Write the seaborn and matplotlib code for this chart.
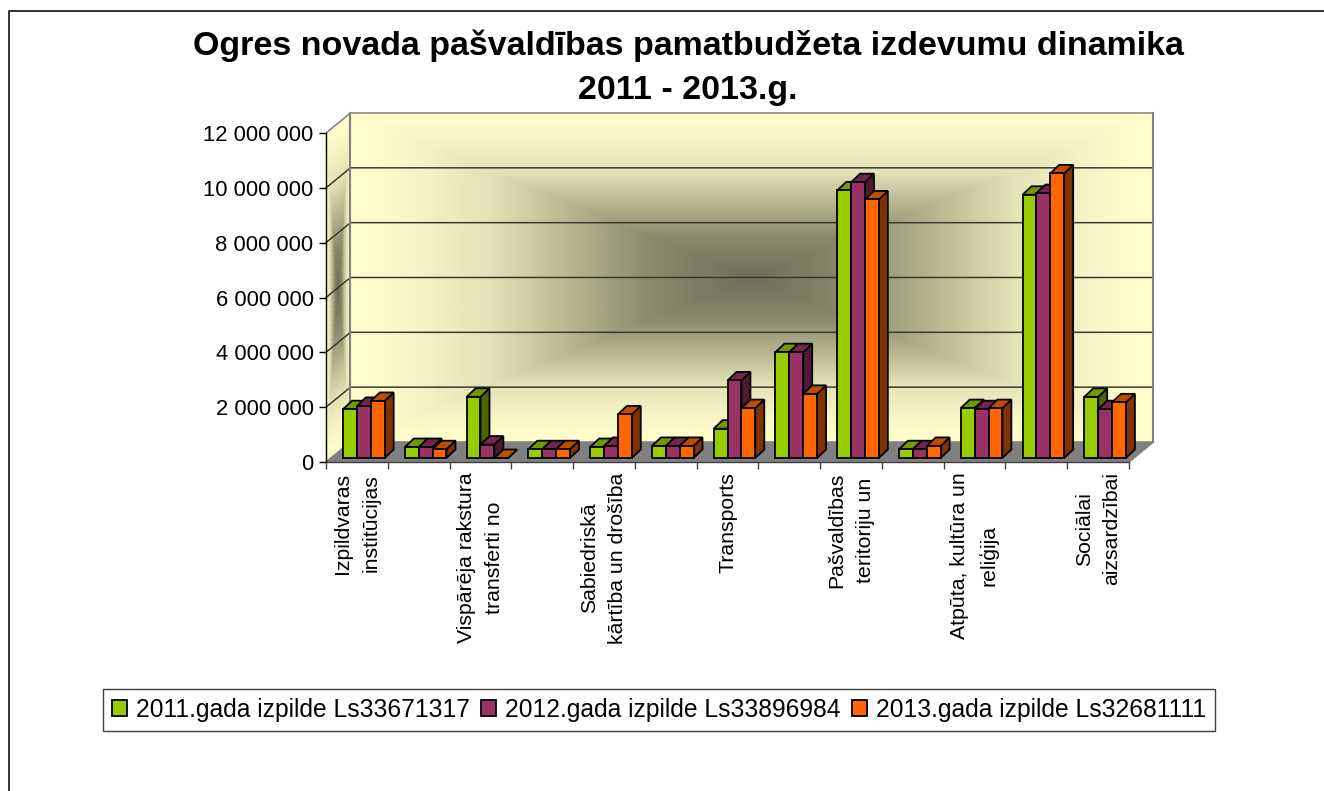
import numpy as np
import pandas as pd
import seaborn as sns
from matplotlib import pyplot as plt
from matplotlib.colors import LinearSegmentedColormap
from matplotlib.lines import Line2D
from matplotlib.patches import Polygon

# values (Ls)
series_names = ['2011.gada izpilde Ls33671317', '2012.gada izpilde Ls33896984', '2013.gada izpilde Ls32681111']
values_2011 = [1780000, 400000, 2230000, 320000, 400000, 440000, 1070000, 3860000, 9760000, 320000, 1820000, 9600000, 2230000]
values_2012 = [1900000, 400000, 490000, 320000, 440000, 440000, 2830000, 3860000, 10060000, 320000, 1780000, 9660000, 1780000]
values_2013 = [2080000, 320000, 0, 320000, 1590000, 440000, 1820000, 2340000, 9430000, 440000, 1820000, 10380000, 2030000]
cat_labels = ['Izpildvaras\ninstitūcijas', '', 'Vispārēja rakstura\ntransferti no', '',
              'Sabiedriskā\nkārtība un drošība', '', 'Transports', '',
              'Pašvaldības\nteritoriju un', '', 'Atpūta, kultūra un\nreliģija', '',
              'Sociālai\naizsardzībai']
y_ticks = [0, 2000000, 4000000, 6000000, 8000000, 10000000, 12000000]
y_labels = ['0', '2 000 000', '4 000 000', '6 000 000', '8 000 000', '10 000 000', '12 000 000']

front_colors = ['#99CC00', '#993366', '#FF6600']
top_colors = ['#739900', '#73264D', '#BF4D00']
side_colors = ['#4D6600', '#4D1933', '#803300']

W, H = 1324, 791
sns.set_style('white')
plt.rcParams['font.family'] = ['Liberation Sans', 'DejaVu Sans']

rows = []
for name, vals in zip(series_names, [values_2011, values_2012, values_2013]):
    for i, v in enumerate(vals):
        rows.append({'cat': i, 'series': name, 'value': v})
df = pd.DataFrame(rows)


def px_axes(x0, y0, x1, y1):
    # axes from pixel box, y counted from the top
    return fig.add_axes([x0 / W, 1 - y1 / H, (x1 - x0) / W, (y1 - y0) / H])


fig = plt.figure(figsize=(W / 100, H / 100), dpi=100)
ax = px_axes(326, 133, 1129, 462)
ax.set_xlim(-0.5, 12.5)
ax.set_ylim(0, 12000000)
ax.patch.set_visible(False)

# depth of the fake 3d box, data units
wall_dx = 24.5 / 61.8
wall_dy = 20 / 54.8 * 2000000
x_l, x_r = -0.5, 12.5

grad = LinearSegmentedColormap.from_list('wall', [
    (0.0, '#6F6F58'), (0.25, '#8A8A6C'), (0.45, '#B8B690'),
    (0.65, '#E4E2B6'), (0.85, '#F8F6C6'), (1.0, '#FFFFCC')])
u, v = np.meshgrid(np.linspace(-1, 1, 301), np.linspace(-1, 1, 201))
shade = np.maximum(np.abs(u), np.abs(v))

# back wall
ax.pcolormesh(x_l + wall_dx + (u + 1) / 2 * (x_r - x_l), wall_dy + (v + 1) / 2 * 12000000,
              shade, cmap=grad, vmin=0, vmax=1, shading='gouraud', clip_on=False, zorder=0)
# left wall
ax.pcolormesh(x_l + (u + 1) / 2 * wall_dx, (u + 1) / 2 * wall_dy + (v + 1) / 2 * 12000000,
              shade, cmap=grad, vmin=0, vmax=1, shading='gouraud', clip_on=False, zorder=0)
# floor
ax.add_patch(Polygon([(x_l, 0), (x_l + wall_dx, wall_dy), (x_r + wall_dx, wall_dy), (x_r, 0)],
                     facecolor='#808080', edgecolor='none', clip_on=False, zorder=1))

for t in y_ticks:
    c = '#808080' if t == 0 or t == 12000000 else '#3A3A30'
    ax.plot([x_l, x_l + wall_dx, x_r + wall_dx], [t, t + wall_dy, t + wall_dy],
            color=c, lw=1.1, clip_on=False, zorder=2)
ax.plot([x_l + wall_dx, x_l + wall_dx], [wall_dy, 12000000 + wall_dy], color='#808080', lw=1.5, clip_on=False, zorder=2)
ax.plot([x_r + wall_dx, x_r + wall_dx], [wall_dy, 12000000 + wall_dy], color='#808080', lw=1.5, clip_on=False, zorder=2)
ax.plot([x_r, x_r + wall_dx], [0, wall_dy], color='#808080', lw=1.1, clip_on=False, zorder=2)

sns.despine(ax=ax, top=True, right=True)
ax.spines['left'].set_linewidth(1.0)
ax.spines['left'].set_color('black')
ax.spines['bottom'].set_linewidth(1.0)
ax.spines['bottom'].set_color('#404040')
ax.set_yticks(y_ticks)
ax.set_yticklabels(y_labels, fontsize=15.8, color='black')
ax.set_xticks(range(len(cat_labels)))
ax.set_xticklabels(cat_labels, fontsize=15.3, rotation=90, va='top', ha='center',
                   multialignment='center', linespacing=1.6, color='black')
ax.set_xticks(np.arange(-0.5, 13, 1), minor=True)
ax.tick_params(axis='x', which='major', length=0, pad=7.5)
ax.tick_params(axis='x', which='minor', length=5, width=1, color='#404040', bottom=True)
ax.tick_params(axis='y', length=5, width=1, color='black', left=True, pad=4)

# bars sit slightly inside the box, so they get their own axes
bar_ax = px_axes(333, 129, 1136, 458)
bar_ax.patch.set_visible(False)
sns.barplot(data=df, x='cat', y='value', hue='series', hue_order=series_names, palette=front_colors,
            width=0.673, gap=0, saturation=1, errorbar=None, edgecolor='black', linewidth=1.3, ax=bar_ax)
bar_ax.set_xlim(-0.5, 12.5)
bar_ax.set_ylim(0, 12000000)
bar_ax.axis('off')

handles, labels = bar_ax.get_legend_handles_labels()
bar_ax.get_legend().remove()

bar_dx = 9 / 61.8
bar_dy = 8.5 / 54.8 * 2000000
order = 10
all_bars = []
for s, container in enumerate(bar_ax.containers):
    for patch in container:
        all_bars.append((patch.get_x(), s, patch))
for x0, s, patch in sorted(all_bars, key=lambda b: b[0]):
    w, h = patch.get_width(), patch.get_height()
    x1 = x0 + w
    bar_ax.add_patch(Polygon([(x1, 0), (x1 + bar_dx, bar_dy), (x1 + bar_dx, h + bar_dy), (x1, h)],
                             facecolor=side_colors[s], edgecolor='black', lw=1.3, clip_on=False, zorder=order))
    bar_ax.add_patch(Polygon([(x0, h), (x0 + bar_dx, h + bar_dy), (x1 + bar_dx, h + bar_dy), (x1, h)],
                             facecolor=top_colors[s], edgecolor='black', lw=1.3, clip_on=False, zorder=order))
    patch.set_zorder(order + 0.5)
    patch.set_clip_on(False)
    order += 1

fig.text(688 / W, 1 - 67.5 / H, 'Ogres novada pašvaldības pamatbudžeta izdevumu dinamika\n2011 - 2013.g.',
         ha='center', va='center', fontsize=24.5, fontweight='bold', linespacing=1.53, color='black')

leg = fig.legend(handles, labels, loc='center', bbox_to_anchor=(659 / W, 1 - 710 / H), ncol=3, fontsize=17.75,
                 frameon=True, fancybox=False, edgecolor='#404040', framealpha=1, handlelength=0.6,
                 handleheight=0.6, handletextpad=0.37, columnspacing=0.45, borderpad=0.38, borderaxespad=0,
                 labelcolor='black')
leg.get_frame().set_linewidth(1.0)

# page frame
fig.add_artist(Line2D([8.5 / W, 8.5 / W, 1], [0, 1 - 10.5 / H, 1 - 10.5 / H], color='#222222', lw=1.3))

fig.savefig('out.png', dpi=100)
